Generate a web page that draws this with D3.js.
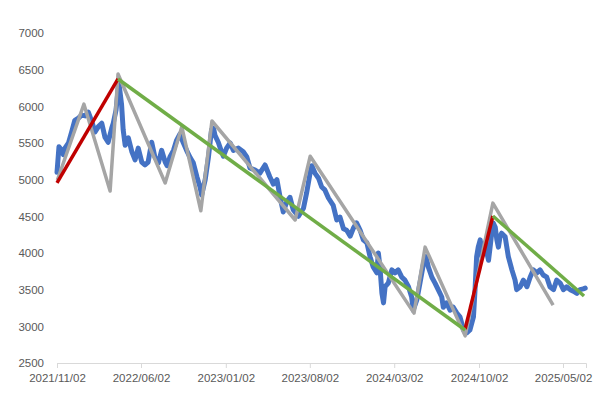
<!DOCTYPE html>
<html>
<head>
<meta charset="utf-8">
<script src="https://cdn.jsdelivr.net/npm/d3@7"></script>
<style>
  body { margin: 0; background: #fff; }
  text { font-family: "Liberation Sans", Arial, sans-serif; font-size: 11.5px; fill: #595959; }
</style>
</head>
<body>
<div class="chart"></div>
<script>
// daily index (blue)
const priceDates = ["2021-11-02","2021-11-07","2021-11-14","2021-11-18","2021-11-22","2021-12-01","2021-12-09","2021-12-17","2021-12-26",
  "2022-01-03","2022-01-12","2022-01-20","2022-01-29","2022-02-06","2022-02-14","2022-02-23","2022-03-03","2022-03-11","2022-03-20",
  "2022-03-24","2022-03-31","2022-04-07","2022-04-14","2022-04-18","2022-04-23","2022-05-01","2022-05-10","2022-05-18","2022-05-26",
  "2022-06-04","2022-06-12","2022-06-20","2022-06-29","2022-07-07","2022-07-16","2022-07-24","2022-08-02","2022-08-07","2022-08-14",
  "2022-08-23","2022-08-31","2022-09-08","2022-09-17","2022-09-25","2022-10-04","2022-10-12","2022-10-21","2022-10-29","2022-11-02",
  "2022-11-11","2022-11-19","2022-11-27","2022-12-02","2022-12-06","2022-12-14","2022-12-21","2022-12-27","2023-01-04","2023-01-13",
  "2023-01-21","2023-02-03","2023-02-15","2023-02-24","2023-03-04","2023-03-17","2023-03-29","2023-04-11","2023-04-23","2023-05-02",
  "2023-05-11","2023-05-19","2023-05-27","2023-06-05","2023-06-13","2023-06-21","2023-07-04","2023-07-17","2023-07-25","2023-08-03",
  "2023-08-07","2023-08-15","2023-08-24","2023-09-01","2023-09-09","2023-09-18","2023-09-30","2023-10-09","2023-10-17","2023-10-26",
  "2023-11-03","2023-11-12","2023-11-20","2023-11-28","2023-12-07","2023-12-15","2023-12-24","2024-01-01","2024-01-09","2024-01-18",
  "2024-01-22","2024-01-26","2024-01-31","2024-02-04","2024-02-08","2024-02-16","2024-02-25","2024-03-04","2024-03-12","2024-03-21",
  "2024-03-29","2024-04-07","2024-04-15","2024-04-19","2024-04-28","2024-05-06","2024-05-15","2024-05-21","2024-05-27","2024-06-05",
  "2024-06-13","2024-06-21","2024-06-30","2024-07-04","2024-07-12","2024-07-21","2024-07-29","2024-08-07","2024-08-15","2024-08-24",
  "2024-09-01","2024-09-09","2024-09-18","2024-09-22","2024-09-26","2024-09-30","2024-10-05","2024-10-09","2024-10-17","2024-10-22",
  "2024-10-26","2024-10-30","2024-11-03","2024-11-07","2024-11-12","2024-11-16","2024-11-20","2024-11-24","2024-11-28","2024-12-07",
  "2024-12-15","2024-12-24","2025-01-01","2025-01-05","2025-01-14","2025-01-22","2025-01-31","2025-02-08","2025-02-16","2025-02-25",
  "2025-03-05","2025-03-13","2025-03-22","2025-03-30","2025-04-08","2025-04-16","2025-04-25","2025-05-03","2025-05-11","2025-05-20",
  "2025-05-28","2025-06-06","2025-06-14","2025-06-22","2025-06-27"];
const priceValues = [5100,5450,5400,5340,5430,5500,5650,5810,5840,
  5880,5870,5920,5790,5650,5720,5770,5580,5510,5700,
  5770,5950,6330,6020,5680,5470,5570,5380,5270,5430,
  5240,5200,5240,5510,5310,5230,5400,5240,5190,5310,
  5400,5540,5620,5500,5400,5300,5230,5040,4900,4790,
  5000,5300,5680,5700,5600,5510,5400,5320,5430,5500,
  5400,5430,5380,5310,5160,5130,5090,5200,5040,4940,
  5000,4760,4560,4700,4760,4590,4500,4610,4820,5100,
  5190,5090,5020,4900,4860,4750,4650,4450,4490,4330,
  4310,4230,4340,4410,4310,4180,4140,3950,3810,3730,
  4000,3810,3450,3320,3540,3590,3770,3730,3770,3670,
  3630,3540,3400,3220,3360,3590,3860,3950,3810,3670,
  3590,3500,3400,3260,3320,3220,3260,3180,3130,2950,
  2910,2950,3130,3500,3950,4080,4180,3950,4140,4000,
  3900,4080,4270,4410,4350,4180,4080,4220,4270,4220,
  3950,3770,3630,3500,3540,3630,3540,3670,3770,3730,
  3770,3700,3670,3540,3500,3630,3590,3500,3540,3500,
  3480,3450,3500,3510,3520];

// swing highs and lows (gray)
const swingDates = ["2021-11-03","2022-01-09","2022-03-16","2022-04-05","2022-08-02","2022-09-13","2022-10-31","2022-11-28",
  "2023-06-26","2023-08-03","2024-04-21","2024-05-19","2024-08-28","2024-11-06","2025-04-07"];
const swingValues = [4995,6030,4845,6440,4955,5720,4575,5800,4450,5320,3180,4080,2870,4680,3290];

// trend lines: red = up, green = down
const redDates = [["2021-11-02","2022-04-05"],["2024-08-28","2024-11-06"]];
const redValues = [[4955,6373],[2964,4505]];
const greenDates = [["2022-04-05","2024-08-28"],["2024-11-06","2025-06-24"]];
const greenValues = [[6373,2950],[4505,3414]];

const yTicks = [2500,3000,3500,4000,4500,5000,5500,6000,6500,7000];
const xTickLabels = ["2021/11/02","2022/06/02","2023/01/02","2023/08/02","2024/03/02","2024/10/02","2025/05/02"];

const width = 597, height = 393;
const parse = d3.timeParse("%Y-%m-%d");
const parseLabel = d3.timeParse("%Y/%m/%d");

const svg = d3.select(".chart")
  .append("svg")
  .attr("width", width)
  .attr("height", height);

let x = d3.scaleTime()
  .domain([parse("2021-11-02"), parse("2025-06-29")])
  .range([57, 586]);

let y = d3.scaleLinear()
  .domain([2500, 7000])
  .range([363, 33]);

// x axis
let xAxis = d3.axisBottom(x)
  .tickValues(xTickLabels.map(parseLabel))
  .tickFormat(d3.timeFormat("%Y/%m/%d"))
  .tickSizeOuter(0)
  .tickSize(5)
  .tickPadding(6);

let gx = svg.append("g")
  .attr("transform", "translate(0,363)")
  .call(xAxis);
gx.select(".domain").attr("stroke", "#d9d9d9");
gx.selectAll(".tick line").attr("stroke", "#d9d9d9");
gx.selectAll("text").attr("fill", "#595959").style("font-size", "11.5px");

// y axis (labels only)
let gy = svg.append("g")
  .attr("transform", "translate(44,0)")
  .call(d3.axisLeft(y).tickValues(yTicks).tickFormat(d3.format("d")).tickSize(0).tickPadding(0));
gy.select(".domain").remove();
gy.selectAll("text").attr("fill", "#595959").style("font-size", "11.5px");

let line = d3.line()
  .x(d => x(d[0]))
  .y(d => y(d[1]));

function pairs(dates, values) {
  return dates.map((d, i) => [parse(d), values[i]]);
}

svg.append("path")
  .datum(pairs(priceDates, priceValues))
  .attr("fill", "none")
  .attr("stroke", "#4472c4")
  .attr("stroke-width", 5)
  .attr("stroke-linejoin", "round")
  .attr("stroke-linecap", "round")
  .attr("d", line);

svg.append("path")
  .datum(pairs(swingDates, swingValues))
  .attr("fill", "none")
  .attr("stroke", "#a5a5a5")
  .attr("stroke-width", 3.5)
  .attr("stroke-linejoin", "round")
  .attr("d", line);

redDates.forEach((ds, i) => {
  svg.append("path")
    .datum(pairs(ds, redValues[i]))
    .attr("fill", "none")
    .attr("stroke", "#c00000")
    .attr("stroke-width", 3.5)
    .attr("d", line);
});

greenDates.forEach((ds, i) => {
  svg.append("path")
    .datum(pairs(ds, greenValues[i]))
    .attr("fill", "none")
    .attr("stroke", "#70ad47")
    .attr("stroke-width", 3.5)
    .attr("d", line);
});
</script>
</body>
</html>
